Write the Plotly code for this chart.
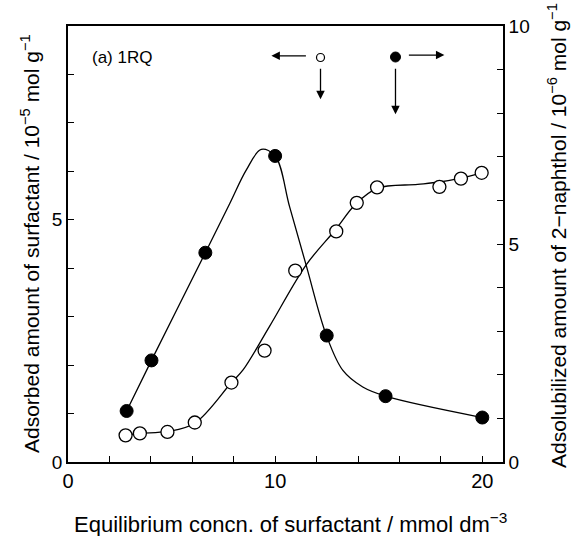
import plotly.graph_objects as go

# Adsorbed amount of surfactant (open circles, left axis, 10^-5 mol g^-1)
surf_x = [2.78, 3.47, 4.80, 6.12, 7.89, 9.49, 10.97, 12.95, 13.94, 14.92, 17.93, 18.97, 19.97]
surf_y = [0.55, 0.59, 0.62, 0.815, 1.64, 2.30, 3.95, 4.76, 5.35, 5.67, 5.68, 5.85, 5.97]

# Adsolubilized amount of 2-naphthol (filled circles, right axis, 10^-6 mol g^-1)
naph_x = [2.83, 4.03, 6.63, 10.0, 12.49, 15.33, 20.0]
naph_y = [1.17, 2.33, 4.80, 7.02, 2.90, 1.51, 1.02]

# Hand-drawn smooth curves
fit_surf_x = [2.78, 3.47, 4.80, 6.12, 7.89, 8.45, 9.73, 11.5, 12.92, 13.88, 14.92, 16.88, 17.93, 18.97, 19.97]
fit_surf_y = [0.55, 0.59, 0.63, 0.80, 1.64, 1.90, 2.80, 4.07, 4.80, 5.32, 5.65, 5.73, 5.78, 5.86, 5.97]

fit_naph_x = [2.83, 4.03, 6.63, 7.81, 8.61, 9.33, 10.0, 10.7, 11.5, 12.47, 13.27, 14.23, 15.33, 20.0]
fit_naph_y = [1.17, 2.33, 4.80, 5.93, 6.70, 7.17, 7.02, 5.85, 4.51, 2.91, 2.10, 1.72, 1.51, 1.02]

x_ticks = [0, 10, 20]
left_ticks = [0, 5]
right_ticks = [0, 5, 10]

FONT = "Liberation Sans, Arial, sans-serif"

fig = go.Figure()
fig.add_trace(go.Scatter(x=fit_surf_x, y=fit_surf_y, mode="lines",
                         line=dict(color="black", width=1.3, shape="spline", smoothing=1.0),
                         yaxis="y", showlegend=False, hoverinfo="skip"))
fig.add_trace(go.Scatter(x=fit_naph_x, y=fit_naph_y, mode="lines",
                         line=dict(color="black", width=1.3, shape="spline", smoothing=1.0),
                         yaxis="y2", showlegend=False, hoverinfo="skip"))
fig.add_trace(go.Scatter(x=surf_x, y=surf_y, mode="markers",
                         marker=dict(symbol="circle", size=13, color="white",
                                     line=dict(color="black", width=1.3)),
                         yaxis="y", showlegend=False))
fig.add_trace(go.Scatter(x=naph_x, y=naph_y, mode="markers",
                         marker=dict(symbol="circle", size=13, color="black",
                                     line=dict(color="black", width=1)),
                         yaxis="y2", showlegend=False))

axis_common = dict(showline=True, linecolor="black", linewidth=1.6, ticks="inside",
                   ticklen=6, tickwidth=1.3, tickcolor="black", showgrid=False,
                   zeroline=False)

fig.update_layout(
    width=571, height=536,
    margin=dict(l=68, r=68, t=26, b=74),
    paper_bgcolor="white", plot_bgcolor="white",
    font=dict(family=FONT, color="black"),
    xaxis=dict(range=[0, 21], tickvals=x_ticks, mirror=True,
               tickfont=dict(size=20),
               minor=dict(dtick=2, tick0=0, ticks="inside", ticklen=6, tickwidth=1.3, tickcolor="black"),
               **axis_common),
    yaxis=dict(range=[0, 9], tickvals=left_ticks, tickfont=dict(size=19),
               minor=dict(dtick=1, tick0=0, ticks="inside", ticklen=6, tickwidth=1.3, tickcolor="black"),
               **axis_common),
    yaxis2=dict(range=[0, 10], tickvals=right_ticks, tickfont=dict(size=19),
                overlaying="y", side="right",
                minor=dict(dtick=1, tick0=0, ticks="inside", ticklen=6, tickwidth=1.3, tickcolor="black"),
                **axis_common),
)

annotations = [
    dict(text="Equilibrium concn. of surfactant / mmol dm<sup>−3</sup>", xref="paper", yref="paper",
         x=0.5, y=0, xanchor="center", yanchor="top", yshift=-45, xshift=5, showarrow=False,
         font=dict(size=22)),
    dict(text="Adsorbed amount of surfactant / 10<sup>−5</sup> mol g<sup>−1</sup>", xref="paper", yref="paper",
         x=0, y=0.5, xanchor="center", yanchor="middle", xshift=-38, textangle=-90, showarrow=False,
         font=dict(size=21)),
    dict(text="Adsolubilized amount of 2−naphthol / 10<sup>−6</sup> mol g<sup>−1</sup>", xref="paper", yref="paper",
         x=1, y=0.5, xanchor="center", yanchor="middle", xshift=54, yshift=8, textangle=-90, showarrow=False,
         font=dict(size=21)),
    dict(text="(a) 1RQ", xref="x", yref="y", x=1.06, y=8.36, xanchor="left", yanchor="middle",
         showarrow=False, font=dict(size=17)),
]
arrow_style = dict(showarrow=True, arrowhead=2, arrowsize=1.3, arrowwidth=1.3, arrowcolor="black",
                   text="", xref="x", yref="y", axref="pixel", ayref="pixel", standoff=0)
annotations += [
    dict(x=9.82, y=8.385, ax=36, ay=0, **arrow_style),
    dict(x=12.19, y=7.49, ax=0, ay=-32, **arrow_style),
    dict(x=18.17, y=8.40, ax=-37, ay=0, **arrow_style),
    dict(x=15.81, y=7.18, ax=0, ay=-47, **arrow_style),
]
fig.update_layout(annotations=annotations)

fig.add_shape(type="circle", xref="x", yref="y", xsizemode="pixel", ysizemode="pixel",
              xanchor=12.19, yanchor=8.35, x0=-4, x1=4, y0=-4, y1=4,
              line=dict(color="black", width=1.2), fillcolor="white")
fig.add_shape(type="circle", xref="x", yref="y", xsizemode="pixel", ysizemode="pixel",
              xanchor=15.81, yanchor=8.36, x0=-5, x1=5, y0=-5, y1=5,
              line=dict(color="black", width=1), fillcolor="black")

fig.write_html("out.html")
